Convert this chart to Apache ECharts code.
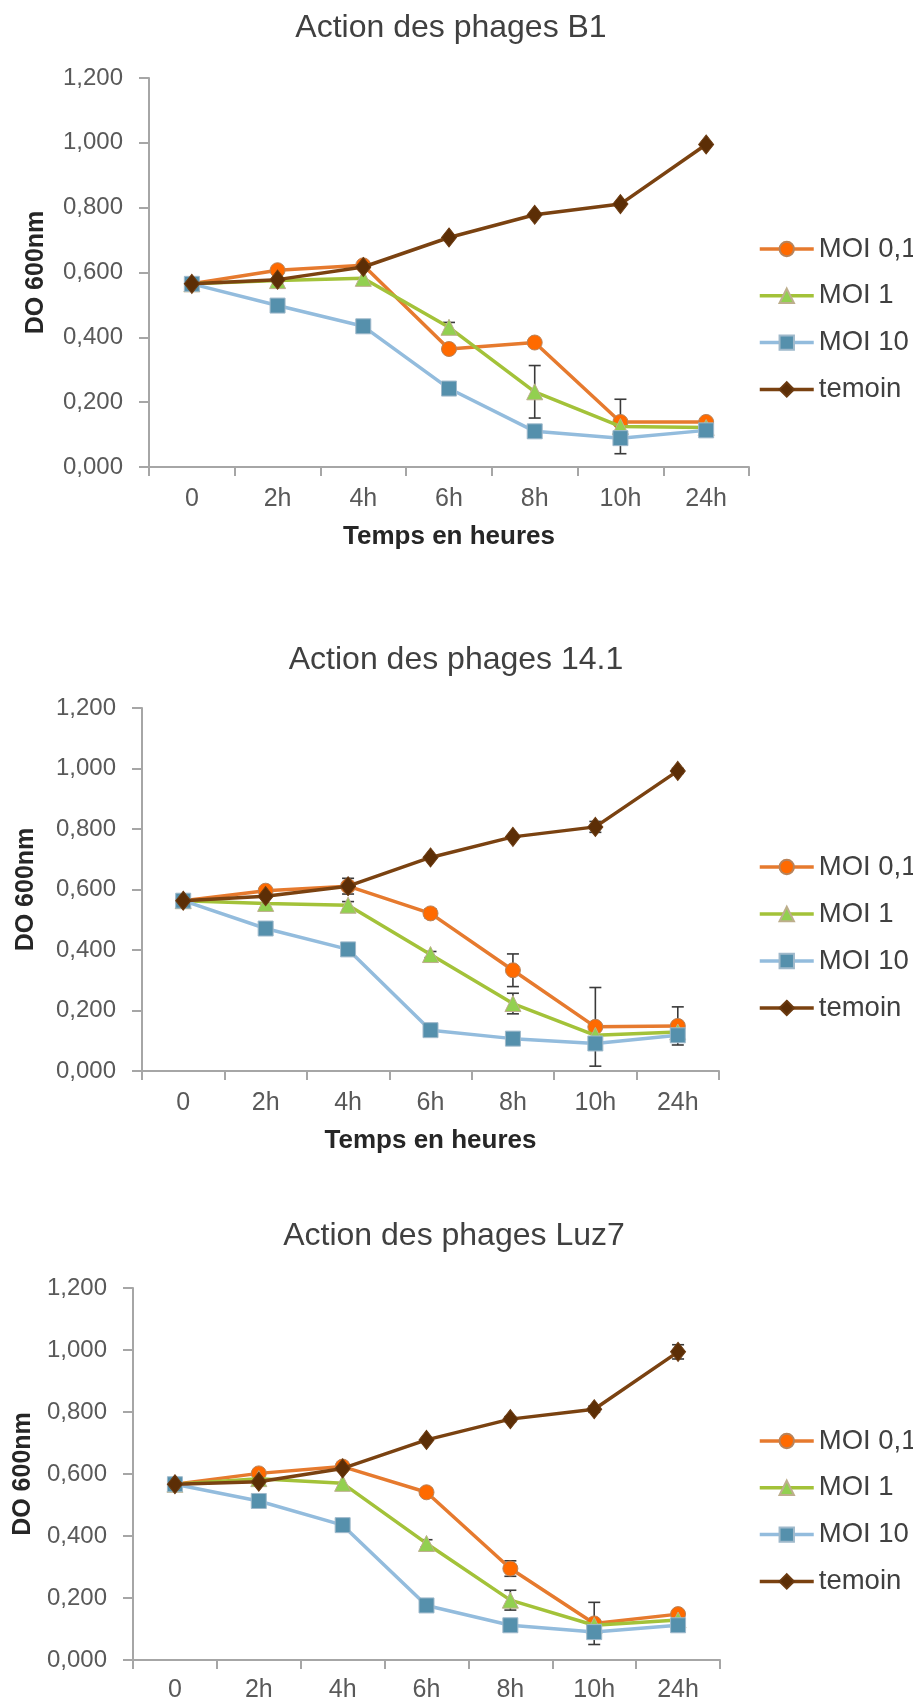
<!DOCTYPE html>
<html><head><meta charset="utf-8">
<script src="https://cdn.jsdelivr.net/npm/echarts@6/dist/echarts.min.js"></script>
<style>html,body{margin:0;padding:0;background:#fff}#c{width:913px;height:1704px}</style>
</head><body><div id="c"></div><script>
// ---------- DATA ----------
const categories = ['0', '2h', '4h', '6h', '8h', '10h', '24h'];
const seriesNames = ['MOI 0,1', 'MOI 1', 'MOI 10', 'temoin'];
const titles = ['Action des phages B1', 'Action des phages 14.1', 'Action des phages Luz7'];
const yAxisTitle = 'DO 600nm';
const xAxisTitle = 'Temps en heures';

// Phage B1
const b1_moi01 = [0.565, 0.607, 0.622, 0.364, 0.384, 0.139, 0.139];
const b1_moi1 = [0.565, 0.575, 0.582, 0.431, 0.232, 0.125, 0.122];
const b1_moi10 = [0.565, 0.498, 0.434, 0.242, 0.110, 0.089, 0.113];
const b1_temoin = [0.565, 0.578, 0.617, 0.708, 0.778, 0.811, 0.995];
const b1_moi01_err = [0, 0, 0, 0, 0, 0, 0];
const b1_moi1_err = [0, 0, 0, 0.015, 0.081, 0.084, 0];
const b1_moi10_err = [0, 0, 0, 0, 0, 0, 0];
const b1_temoin_err = [0, 0, 0, 0, 0, 0, 0];

// Phage 14.1
const p141_moi01 = [0.563, 0.596, 0.611, 0.521, 0.333, 0.146, 0.149];
const p141_moi1 = [0.563, 0.554, 0.548, 0.385, 0.223, 0.118, 0.129];
const p141_moi10 = [0.563, 0.471, 0.402, 0.135, 0.107, 0.091, 0.118];
const p141_temoin = [0.563, 0.578, 0.611, 0.706, 0.774, 0.807, 0.992];
const p141_moi01_err = [0, 0, 0, 0.015, 0.054, 0.130, 0.063];
const p141_moi1_err = [0, 0, 0.012, 0.010, 0.034, 0, 0];
const p141_moi10_err = [0, 0, 0, 0, 0, 0, 0.012];
const p141_temoin_err = [0, 0, 0.026, 0, 0, 0.018, 0.008];

// Phage Luz7
const luz7_moi01 = [0.567, 0.602, 0.624, 0.541, 0.295, 0.118, 0.148];
const luz7_moi1 = [0.567, 0.585, 0.570, 0.376, 0.193, 0.112, 0.129];
const luz7_moi10 = [0.567, 0.513, 0.435, 0.176, 0.112, 0.090, 0.112];
const luz7_temoin = [0.567, 0.575, 0.618, 0.710, 0.777, 0.809, 0.994];
const luz7_moi01_err = [0, 0, 0, 0.012, 0.025, 0.068, 0.012];
const luz7_moi1_err = [0, 0, 0, 0.012, 0.032, 0, 0];
const luz7_moi10_err = [0, 0, 0, 0, 0, 0, 0];
const luz7_temoin_err = [0, 0, 0, 0, 0.008, 0.010, 0.023];

const panelsData = [
  { vals: [b1_moi01, b1_moi1, b1_moi10, b1_temoin], errs: [b1_moi01_err, b1_moi1_err, b1_moi10_err, b1_temoin_err] },
  { vals: [p141_moi01, p141_moi1, p141_moi10, p141_temoin], errs: [p141_moi01_err, p141_moi1_err, p141_moi10_err, p141_temoin_err] },
  { vals: [luz7_moi01, luz7_moi1, luz7_moi10, luz7_temoin], errs: [luz7_moi01_err, luz7_moi1_err, luz7_moi10_err, luz7_temoin_err] }
];

// ---------- STYLE / LAYOUT ----------
const FONT = '"Liberation Sans", Arial, Helvetica, sans-serif';
const styles = [
  { line: '#E67A2E', fill: '#FF6A00', border: '#B8835A', symbol: 'circle', size: 15 },
  { line: '#A3C239', fill: '#92D050', border: '#BDAE8C', symbol: 'triangle', size: 16 },
  { line: '#93BCDD', fill: '#5590AC', border: '#9FB9CB', symbol: 'rect', size: 15 },
  { line: '#7A4211', fill: '#5C2E06', border: '#6B3A10', symbol: 'diamond', size: [15, 19] }
];
const layouts = [
  { grid: { left: 149, top: 78, width: 600, height: 389 }, titleX: 451, titleY: 28, yNameX: 36, xNameY: 537, legendTop: 235, legendGap: 18.8, labelMargin: 20 },
  { grid: { left: 142, top: 708, width: 577, height: 363 }, titleX: 456, titleY: 660, yNameX: 26, xNameY: 1141, legendTop: 853, legendGap: 19, labelMargin: 20 },
  { grid: { left: 133, top: 1288, width: 587, height: 372 }, titleX: 454, titleY: 1236, yNameX: 23, xNameY: null, legendTop: 1427, legendGap: 18.8, labelMargin: 18 }
];

const axisGray = '#A6A6A6';
const grids = [], xAxes = [], yAxes = [], series = [], legends = [], graphics = [];

layouts.forEach((L, p) => {
  grids.push(Object.assign({ containLabel: false }, L.grid));
  xAxes.push({
    type: 'category', gridIndex: p, data: categories, boundaryGap: true,
    axisLine: { lineStyle: { color: axisGray, width: 2 } },
    axisTick: { show: true, inside: false, length: 9, lineStyle: { color: axisGray, width: 2 } },
    axisLabel: { color: '#595959', fontSize: 25, fontFamily: FONT, margin: L.labelMargin },
    splitLine: { show: false }
  });
  yAxes.push({
    type: 'value', gridIndex: p, min: 0, max: 1.2, interval: 0.2,
    axisLine: { show: true, lineStyle: { color: axisGray, width: 2 } },
    axisTick: { show: true, inside: false, length: 10, lineStyle: { color: axisGray, width: 2 } },
    axisLabel: { color: '#595959', fontSize: 24, fontFamily: FONT, margin: 26,
      formatter: v => v.toFixed(3).replace('.', ',') },
    splitLine: { show: false }
  });
  const d = panelsData[p];
  // error bars first (below markers)
  d.vals.forEach((vals, s) => {
    const errs = d.errs[s];
    const eData = [];
    vals.forEach((v, i) => { if (errs[i] > 0) eData.push([i, v - errs[i], v + errs[i]]); });
    series.push({
      type: 'custom', xAxisIndex: p, yAxisIndex: p, z: 1, silent: true,
      encode: { x: 0, y: [1, 2] },
      data: eData,
      renderItem: function (params, api) {
        const x = api.value(0);
        const lo = api.coord([x, api.value(1)]);
        const hi = api.coord([x, api.value(2)]);
        const w = 6;
        const st = { stroke: '#3A3A3A', lineWidth: 1.6 };
        return {
          type: 'group', children: [
            { type: 'line', shape: { x1: lo[0], y1: lo[1], x2: hi[0], y2: hi[1] }, style: st },
            { type: 'line', shape: { x1: hi[0] - w, y1: hi[1], x2: hi[0] + w, y2: hi[1] }, style: st },
            { type: 'line', shape: { x1: lo[0] - w, y1: lo[1], x2: lo[0] + w, y2: lo[1] }, style: st }
          ]
        };
      }
    });
  });
  d.vals.forEach((vals, s) => {
    const S = styles[s];
    series.push({
      name: seriesNames[s], type: 'line', xAxisIndex: p, yAxisIndex: p, z: 2 + s,
      data: vals, symbol: S.symbol, symbolSize: S.size, showAllSymbol: true,
      lineStyle: { color: S.line, width: 3.5 },
      itemStyle: { color: S.fill, borderColor: S.border, borderWidth: 1 },
      emphasis: { disabled: true }, animation: false
    });
  });
  legends.push({
    orient: 'vertical', left: 758, top: L.legendTop, padding: 0, itemWidth: 54, itemHeight: 18,
    itemGap: L.legendGap, data: seriesNames, selectedMode: false,
    lineStyle: { width: 3.5 },
    textStyle: { color: '#404040', fontSize: 27.5, fontFamily: FONT, lineHeight: 26 }
  });
  const cx = L.grid.left + L.grid.width / 2;
  const cy = L.grid.top + L.grid.height / 2;
  graphics.push({ type: 'text', x: L.titleX, y: L.titleY,
    style: { text: titles[p], font: '32px ' + FONT, fill: '#404040', textAlign: 'center', textVerticalAlign: 'middle', verticalAlign: 'middle' } });
  graphics.push({ type: 'text', x: L.yNameX, y: cy, rotation: Math.PI / 2,
    style: { text: yAxisTitle, font: 'bold 25px ' + FONT, fill: '#262626', textAlign: 'center', textVerticalAlign: 'middle', verticalAlign: 'middle' } });
  if (L.xNameY !== null) {
    graphics.push({ type: 'text', x: cx, y: L.xNameY,
      style: { text: xAxisTitle, font: 'bold 26px ' + FONT, fill: '#262626', textAlign: 'center', textVerticalAlign: 'middle', verticalAlign: 'middle' } });
  }
});

const chart = echarts.init(document.getElementById('c'), null, { renderer: 'canvas' });
chart.setOption({
  animation: false,
  backgroundColor: '#ffffff',
  grid: grids, xAxis: xAxes, yAxis: yAxes, series: series, legend: legends,
  graphic: graphics
});
</script></body></html>
